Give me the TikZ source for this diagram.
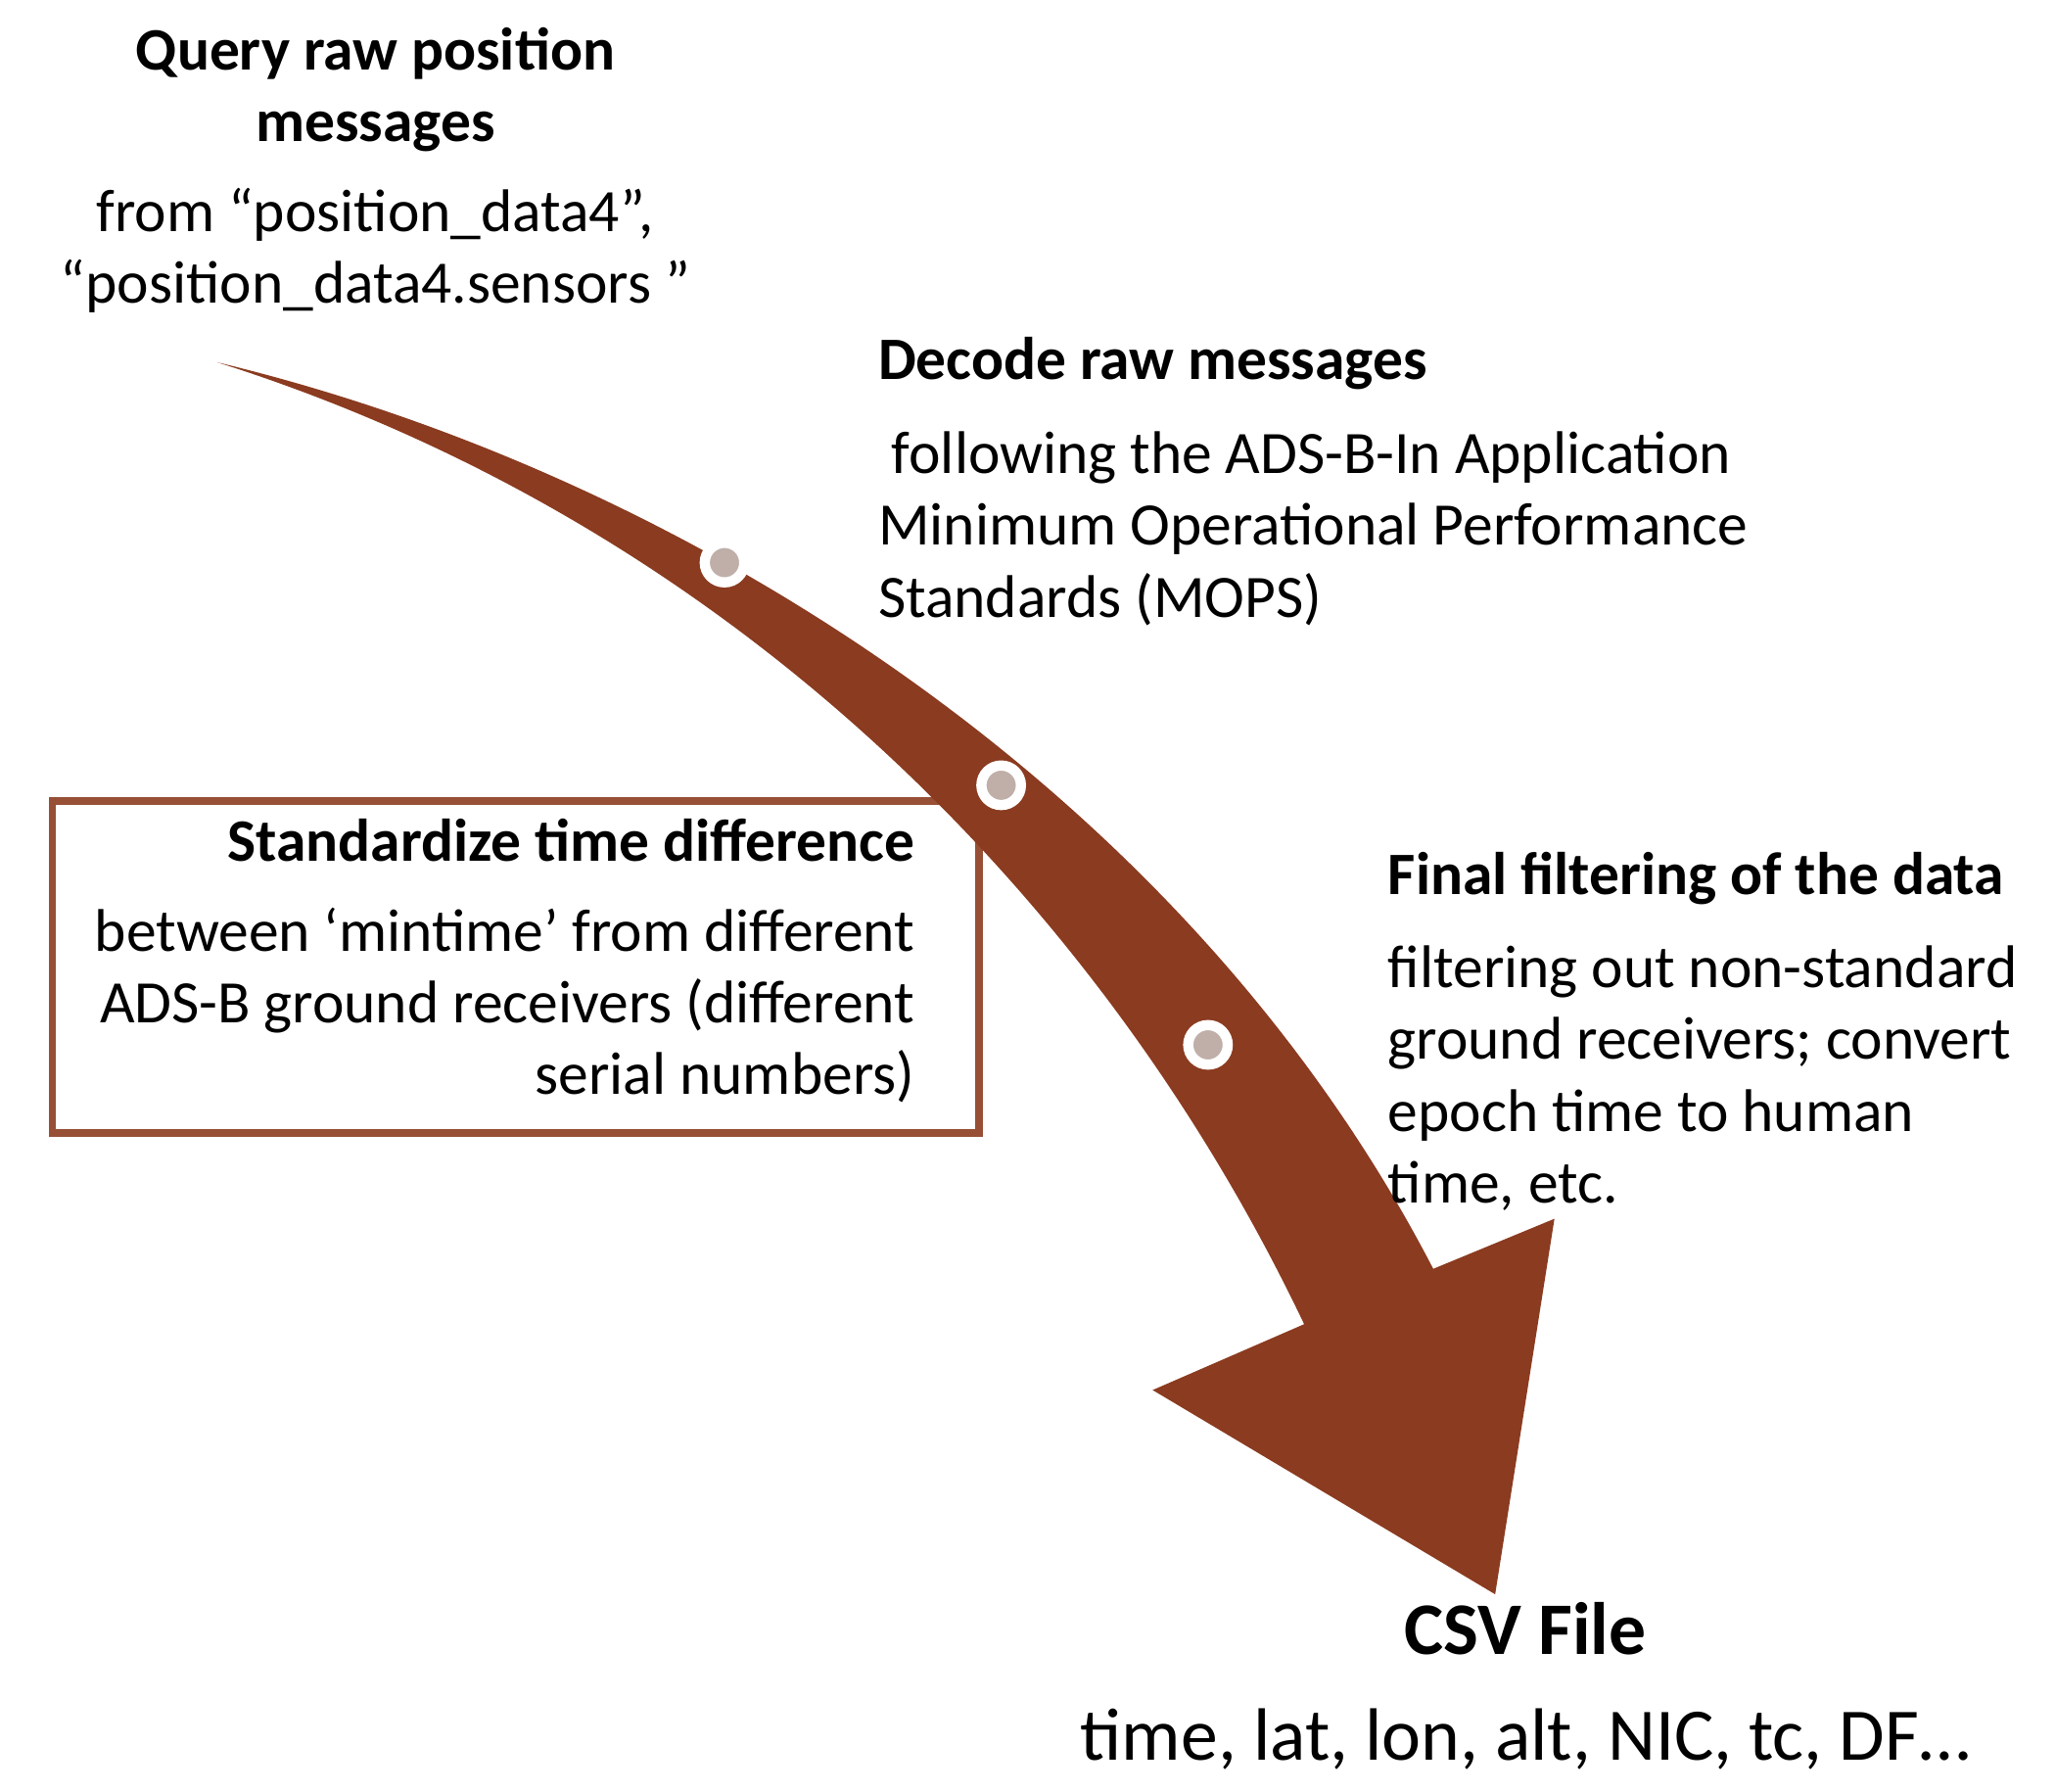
\documentclass[tikz,border=0pt]{standalone}
\usepackage{fontspec}
\setmainfont{Carlito}
\definecolor{arr}{HTML}{8B3B20}
\definecolor{dot}{HTML}{BFAFA8}
\begin{document}
\begin{tikzpicture}[x=0.01cm,y=-0.01cm,
  head/.style={font=\fontsize{13}{15.5}\selectfont\bfseries,inner sep=0pt},
  body/.style={font=\fontsize{13}{15.5}\selectfont,inner sep=0pt},
  stop/.style={circle,draw=white,line width=2.2pt,fill=dot,minimum size=0.3cm,inner sep=0pt}]
\useasboundingbox (0,0) rectangle (1560,1360);
\node[draw=arr!90!white,line width=1.6pt,minimum width=7.03cm,minimum height=2.52cm,anchor=north west] (box) at (37,605) {};
\fill[arr] (165,275) .. controls (520,360) and (900,600) .. (1088,963)
  -- (1180,925) -- (1135,1210) -- (875,1055) -- (990,1005)
  .. controls (840,690) and (560,400) .. (165,275) -- cycle;
\node[stop] (d1) at (550,427) {};
\node[stop] (d2) at (760,596) {};
\node[stop] (d3) at (917,793) {};
\node[head,align=center] (q) at (285,68) {Query raw position\\messages};
\node[body,align=center] (qt) at (285,190) {from “position\_data4”,\\“position\_data4.sensors ”};
\node[head,anchor=west] (dh) at (666,276) {Decode raw messages};
\node[body,align=left,anchor=north west] (dt) at (666,327) {\ following the ADS-B-In Application\\Minimum Operational Performance\\Standards (MOPS)};
\node[head,anchor=east] (sh) at (695,638) {Standardize time difference};
\node[body,align=right,anchor=north east] (st) at (695,688) {between ‘mintime’ from different\\ADS-B ground receivers (different\\serial numbers)};
\node[head,anchor=west] (fh) at (1053,667) {Final filtering of the data};
\node[body,align=left,anchor=north west] (ft) at (1053,717) {filtering out non-standard\\ground receivers; convert\\epoch time to human\\time, etc.};
\node[head,font=\fontsize{16}{19}\selectfont\bfseries] (c) at (1158,1236) {CSV File};
\node[body,font=\fontsize{16}{19}\selectfont] (ct) at (1158,1320) {time, lat, lon, alt, NIC, tc, DF…};
\end{tikzpicture}
\end{document}
